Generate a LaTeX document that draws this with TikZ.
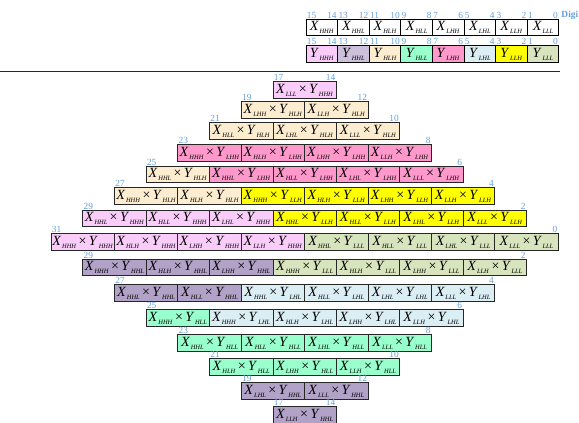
\documentclass[tikz,border=0pt]{standalone}
\usepackage{xcolor}
\usepackage{amsmath,amssymb}
\usepackage{fontspec}
\setmainfont{Liberation Serif}
\usepackage{tikz}
\usetikzlibrary{positioning}

\definecolor{chhh}{RGB}{250,204,250}
\definecolor{chhl}{RGB}{178,162,200}
\definecolor{chhlhead}{RGB}{204,192,218}
\definecolor{chlh}{RGB}{253,237,208}
\definecolor{chll}{RGB}{153,255,204}
\definecolor{clhh}{RGB}{255,153,204}
\definecolor{clhl}{RGB}{218,238,243}
\definecolor{cllh}{RGB}{255,255,0}
\definecolor{clll}{RGB}{215,228,189}
\definecolor{bitblue}{RGB}{100,160,220}

% X/Y digit with a tiny subscript
\newcommand{\subdig}[1]{\kern0.6pt\raisebox{-2.4pt}{\fontsize{5.5}{6}\selectfont\textit{#1}}}
\newcommand{\mulcell}[2]{\textit{X}\subdig{#1}\,\texttimes\,\textit{Y}\subdig{#2}}
\newcommand{\digx}[1]{\textit{X}\subdig{#1}}
\newcommand{\digy}[1]{\textit{Y}\subdig{#1}}

\begin{document}
\begin{tikzpicture}[
    x=0.03cm, y=-0.03cm,
    cell/.style={rectangle, draw=black!85, line width=0.6pt, fill=#1, minimum width=1.902cm, minimum height=0.495cm, inner sep=0pt, outer sep=0pt, text centered, font=\fontsize{12}{13}\selectfont},
    digbox/.style={rectangle, draw=black, line width=0.6pt, fill=#1, minimum width=0.948cm, minimum height=0.5cm, inner sep=0pt, outer sep=0pt, font=\fontsize{12}{13}\selectfont},
    bitlbl/.style={font=\fontsize{8}{9}\selectfont, text=bitblue, inner sep=0.6pt}
]
\useasboundingbox (0,0) rectangle (579,423);

% Digits of X (top)
\node[digbox=white] (xhhh) at (321.8,27.5) {\digx{HHH}};
\node[digbox=white] (xhhl) at (353.4,27.5) {\digx{HHL}};
\node[digbox=white] (xhlh) at (385.0,27.5) {\digx{HLH}};
\node[digbox=white] (xhll) at (416.6,27.5) {\digx{HLL}};
\node[digbox=white] (xlhh) at (448.2,27.5) {\digx{LHH}};
\node[digbox=white] (xlhl) at (479.8,27.5) {\digx{LHL}};
\node[digbox=white, line width=1.1pt] (xllh) at (511.4,27.5) {\digx{LLH}};
\node[digbox=white] (xlll) at (543.0,27.5) {\digx{LLL}};

% Digits of Y
\node[digbox=chhh] (yhhh) at (321.8,54) {\digy{HHH}};
\node[digbox=chhlhead] (yhhl) at (353.4,54) {\digy{HHL}};
\node[digbox=chlh] (yhlh) at (385.0,54) {\digy{HLH}};
\node[digbox=chll] (yhll) at (416.6,54) {\digy{HLL}};
\node[digbox=clhh] (ylhh) at (448.2,54) {\digy{LHH}};
\node[digbox=clhl] (ylhl) at (479.8,54) {\digy{LHL}};
\node[digbox=cllh] (yllh) at (511.4,54) {\digy{LLH}};
\node[digbox=clll] (ylll) at (543.0,54) {\digy{LLL}};

% Bit numbers over X
\node[bitlbl, anchor=south west] (xb15) at (xhhh.north west) {15};
\node[bitlbl, anchor=south east] (xb14) at (xhhh.north east) {14};
\node[bitlbl, anchor=south west] (xb13) at (xhhl.north west) {13};
\node[bitlbl, anchor=south east] (xb12) at (xhhl.north east) {12};
\node[bitlbl, anchor=south west] (xb11) at (xhlh.north west) {11};
\node[bitlbl, anchor=south east] (xb10) at (xhlh.north east) {10};
\node[bitlbl, anchor=south west] (xb9) at (xhll.north west) {9};
\node[bitlbl, anchor=south east] (xb8) at (xhll.north east) {8};
\node[bitlbl, anchor=south west] (xb7) at (xlhh.north west) {7};
\node[bitlbl, anchor=south east] (xb6) at (xlhh.north east) {6};
\node[bitlbl, anchor=south west] (xb5) at (xlhl.north west) {5};
\node[bitlbl, anchor=south east] (xb4) at (xlhl.north east) {4};
\node[bitlbl, anchor=south west] (xb3) at (xllh.north west) {3};
\node[bitlbl, anchor=south east] (xb2) at (xllh.north east) {2};
\node[bitlbl, anchor=south west] (xb1) at (xlll.north west) {1};
\node[bitlbl, anchor=south east] (xb0) at (xlll.north east) {0};
\node[bitlbl, font=\fontsize{8}{9}\selectfont\bfseries, right=1.5pt of xb0] (digi) {Digi};

% Bit numbers over Y
\node[bitlbl, anchor=south west] (yb15) at (yhhh.north west) {15};
\node[bitlbl, anchor=south east] (yb14) at (yhhh.north east) {14};
\node[bitlbl, anchor=south west] (yb13) at (yhhl.north west) {13};
\node[bitlbl, anchor=south east] (yb12) at (yhhl.north east) {12};
\node[bitlbl, anchor=south west] (yb11) at (yhlh.north west) {11};
\node[bitlbl, anchor=south east] (yb10) at (yhlh.north east) {10};
\node[bitlbl, anchor=south west] (yb9) at (yhll.north west) {9};
\node[bitlbl, anchor=south east] (yb8) at (yhll.north east) {8};
\node[bitlbl, anchor=south west] (yb7) at (ylhh.north west) {7};
\node[bitlbl, anchor=south east] (yb6) at (ylhh.north east) {6};
\node[bitlbl, anchor=south west] (yb5) at (ylhl.north west) {5};
\node[bitlbl, anchor=south east] (yb4) at (ylhl.north east) {4};
\node[bitlbl, anchor=south west] (yb3) at (yllh.north west) {3};
\node[bitlbl, anchor=south east] (yb2) at (yllh.north east) {2};
\node[bitlbl, anchor=south west] (yb1) at (ylll.north west) {1};
\node[bitlbl, anchor=south east] (yb0) at (ylll.north east) {0};

% Separator
\draw[black!85, line width=0.7pt] (0,71) -- (560,71);

% Row 1
\node[cell=chhh] (r1c1) at (304.6,90) {\mulcell{LLL}{HHH}};

% Row 2
\node[cell=chlh] (r2c1) at (272.9,110) {\mulcell{LHH}{HLH}};
\node[cell=chlh] (r2c2) at (336.3,110) {\mulcell{LLH}{HLH}};

% Row 3
\node[cell=chlh] (r3c1) at (241.2,131) {\mulcell{HLL}{HLH}};
\node[cell=chlh] (r3c2) at (304.6,131) {\mulcell{LHL}{HLH}};
\node[cell=chlh] (r3c3) at (368.0,131) {\mulcell{LLL}{HLH}};

% Row 4
\node[cell=clhh] (r4c1) at (209.5,153) {\mulcell{HHH}{LHH}};
\node[cell=clhh] (r4c2) at (272.9,153) {\mulcell{HLH}{LHH}};
\node[cell=clhh] (r4c3) at (336.3,153) {\mulcell{LHH}{LHH}};
\node[cell=clhh] (r4c4) at (399.7,153) {\mulcell{LLH}{LHH}};

% Row 5
\node[cell=chlh] (r5c1) at (177.8,174.5) {\mulcell{HHL}{HLH}};
\node[cell=clhh] (r5c2) at (241.2,174.5) {\mulcell{HHL}{LHH}};
\node[cell=clhh] (r5c3) at (304.6,174.5) {\mulcell{HLL}{LHH}};
\node[cell=clhh] (r5c4) at (368.0,174.5) {\mulcell{LHL}{LHH}};
\node[cell=clhh] (r5c5) at (431.4,174.5) {\mulcell{LLL}{LHH}};

% Row 6
\node[cell=chlh] (r6c1) at (146.1,196) {\mulcell{HHH}{HLH}};
\node[cell=chlh] (r6c2) at (209.5,196) {\mulcell{HLH}{HLH}};
\node[cell=cllh] (r6c3) at (272.9,196) {\mulcell{HHH}{LLH}};
\node[cell=cllh] (r6c4) at (336.3,196) {\mulcell{HLH}{LLH}};
\node[cell=cllh] (r6c5) at (399.7,196) {\mulcell{LHH}{LLH}};
\node[cell=cllh] (r6c6) at (463.1,196) {\mulcell{LLH}{LLH}};

% Row 7
\node[cell=chhh] (r7c1) at (114.4,218.5) {\mulcell{HHL}{HHH}};
\node[cell=chhh] (r7c2) at (177.8,218.5) {\mulcell{HLL}{HHH}};
\node[cell=chhh] (r7c3) at (241.2,218.5) {\mulcell{LHL}{HHH}};
\node[cell=cllh] (r7c4) at (304.6,218.5) {\mulcell{HHL}{LLH}};
\node[cell=cllh] (r7c5) at (368.0,218.5) {\mulcell{HLL}{LLH}};
\node[cell=cllh] (r7c6) at (431.4,218.5) {\mulcell{LHL}{LLH}};
\node[cell=cllh] (r7c7) at (494.8,218.5) {\mulcell{LLL}{LLH}};

% Row 8 (full width)
\node[cell=chhh] (r8c1) at (82.7,242) {\mulcell{HHH}{HHH}};
\node[cell=chhh] (r8c2) at (146.1,242) {\mulcell{HLH}{HHH}};
\node[cell=chhh] (r8c3) at (209.5,242) {\mulcell{LHH}{HHH}};
\node[cell=chhh] (r8c4) at (272.9,242) {\mulcell{LLH}{HHH}};
\node[cell=clll] (r8c5) at (336.3,242) {\mulcell{HHL}{LLL}};
\node[cell=clll] (r8c6) at (399.7,242) {\mulcell{HLL}{LLL}};
\node[cell=clll] (r8c7) at (463.1,242) {\mulcell{LHL}{LLL}};
\node[cell=clll] (r8c8) at (526.5,242) {\mulcell{LLL}{LLL}};

% Row 9
\node[cell=chhl] (r9c1) at (114.4,267.5) {\mulcell{HHH}{HHL}};
\node[cell=chhl] (r9c2) at (177.8,267.5) {\mulcell{HLH}{HHL}};
\node[cell=chhl] (r9c3) at (241.2,267.5) {\mulcell{LHH}{HHL}};
\node[cell=clll] (r9c4) at (304.6,267.5) {\mulcell{HHH}{LLL}};
\node[cell=clll] (r9c5) at (368.0,267.5) {\mulcell{HLH}{LLL}};
\node[cell=clll] (r9c6) at (431.4,267.5) {\mulcell{LHH}{LLL}};
\node[cell=clll] (r9c7) at (494.8,267.5) {\mulcell{LLH}{LLL}};

% Row 10
\node[cell=chhl] (r10c1) at (146.1,293) {\mulcell{HHL}{HHL}};
\node[cell=chhl] (r10c2) at (209.5,293) {\mulcell{HLL}{HHL}};
\node[cell=clhl] (r10c3) at (272.9,293) {\mulcell{HHL}{LHL}};
\node[cell=clhl] (r10c4) at (336.3,293) {\mulcell{HLL}{LHL}};
\node[cell=clhl] (r10c5) at (399.7,293) {\mulcell{LHL}{LHL}};
\node[cell=clhl] (r10c6) at (463.1,293) {\mulcell{LLL}{LHL}};

% Row 11
\node[cell=chll] (r11c1) at (177.8,318) {\mulcell{HHH}{HLL}};
\node[cell=clhl] (r11c2) at (241.2,318) {\mulcell{HHH}{LHL}};
\node[cell=clhl] (r11c3) at (304.6,318) {\mulcell{HLH}{LHL}};
\node[cell=clhl] (r11c4) at (368.0,318) {\mulcell{LHH}{LHL}};
\node[cell=clhl] (r11c5) at (431.4,318) {\mulcell{LLH}{LHL}};

% Row 12
\node[cell=chll] (r12c1) at (209.5,343) {\mulcell{HHL}{HLL}};
\node[cell=chll] (r12c2) at (272.9,343) {\mulcell{HLL}{HLL}};
\node[cell=chll] (r12c3) at (336.3,343) {\mulcell{LHL}{HLL}};
\node[cell=chll] (r12c4) at (399.7,343) {\mulcell{LLL}{HLL}};

% Row 13
\node[cell=chll] (r13c1) at (241.2,367) {\mulcell{HLH}{HLL}};
\node[cell=chll] (r13c2) at (304.6,367) {\mulcell{LHH}{HLL}};
\node[cell=chll] (r13c3) at (368.0,367) {\mulcell{LLH}{HLL}};

% Row 14
\node[cell=chhl] (r14c1) at (272.9,391) {\mulcell{LHL}{HHL}};
\node[cell=chhl] (r14c2) at (336.3,391) {\mulcell{LLL}{HHL}};

% Row 15
\node[cell=chhl] (r15c1) at (304.6,415) {\mulcell{LLH}{HHL}};

% Bit ranges of the rows
\node[bitlbl, anchor=south west] (r1l) at (r1c1.north west) {17};
\node[bitlbl, anchor=south east] (r1r) at (r1c1.north east) {14};
\node[bitlbl, anchor=south west] (r2l) at (r2c1.north west) {19};
\node[bitlbl, anchor=south east] (r2r) at (r2c2.north east) {12};
\node[bitlbl, anchor=south west] (r3l) at (r3c1.north west) {21};
\node[bitlbl, anchor=south east] (r3r) at (r3c3.north east) {10};
\node[bitlbl, anchor=south west] (r4l) at (r4c1.north west) {23};
\node[bitlbl, anchor=south east] (r4r) at (r4c4.north east) {8};
\node[bitlbl, anchor=south west] (r5l) at (r5c1.north west) {25};
\node[bitlbl, anchor=south east] (r5r) at (r5c5.north east) {6};
\node[bitlbl, anchor=south west] (r6l) at (r6c1.north west) {27};
\node[bitlbl, anchor=south east] (r6r) at (r6c6.north east) {4};
\node[bitlbl, anchor=south west] (r7l) at (r7c1.north west) {29};
\node[bitlbl, anchor=south east] (r7r) at (r7c7.north east) {2};
\node[bitlbl, anchor=south west] (r8l) at (r8c1.north west) {31};
\node[bitlbl, anchor=south east] (r8r) at (r8c8.north east) {0};
\node[bitlbl, anchor=south west] (r9l) at (r9c1.north west) {29};
\node[bitlbl, anchor=south east] (r9r) at (r9c7.north east) {2};
\node[bitlbl, anchor=south west] (r10l) at (r10c1.north west) {27};
\node[bitlbl, anchor=south east] (r10r) at (r10c6.north east) {4};
\node[bitlbl, anchor=south west] (r11l) at (r11c1.north west) {25};
\node[bitlbl, anchor=south east] (r11r) at (r11c5.north east) {6};
\node[bitlbl, anchor=south west] (r12l) at (r12c1.north west) {23};
\node[bitlbl, anchor=south east] (r12r) at (r12c4.north east) {8};
\node[bitlbl, anchor=south west] (r13l) at (r13c1.north west) {21};
\node[bitlbl, anchor=south east] (r13r) at (r13c3.north east) {10};
\node[bitlbl, anchor=south west] (r14l) at (r14c1.north west) {19};
\node[bitlbl, anchor=south east] (r14r) at (r14c2.north east) {12};
\node[bitlbl, anchor=south west] (r15l) at (r15c1.north west) {17};
\node[bitlbl, anchor=south east] (r15r) at (r15c1.north east) {14};

\end{tikzpicture}
\end{document}
